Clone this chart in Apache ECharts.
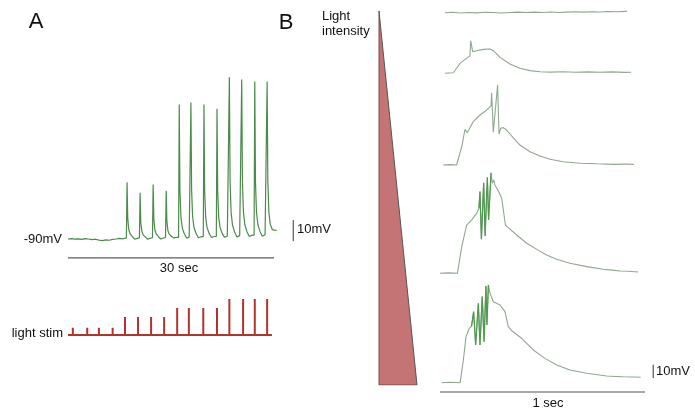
<!DOCTYPE html>
<html>
<head>
<meta charset="utf-8">
<script src="https://cdn.jsdelivr.net/npm/echarts@6/dist/echarts.min.js"></script>
<style>
html,body{margin:0;padding:0;background:#fff;}
#chart{width:695px;height:411px;}
</style>
</head>
<body>
<div id="chart"></div>
<script>
// ---------------- DATA ----------------
// Panel A: membrane potential [time s, mV]
const traceA = [
  [0,-90.0],[0.5,-89.8],[1.0,-90.1],[1.5,-89.9],[2.0,-90.2],[2.5,-89.8],[3.0,-90.0],[3.5,-90.3],
  [4.0,-90.1],[4.5,-90.5],[5.0,-90.8],[5.5,-90.4],[6.0,-90.6],[6.5,-90.2],[7.0,-90.0],[7.5,-89.7],
  [8.0,-89.9],[8.5,-89.5],
  [8.6,-63],[8.7,-80.2],[8.85,-85.5],[9.05,-87.6],[9.35,-88.8],[9.7,-90.1],[10.1,-89.7],
  [10.4,-89.5],[10.5,-68],[10.6,-82.0],[10.75,-86.3],[10.95,-88.0],[11.25,-89.0],[11.6,-90.1],[12.0,-89.6],
  [12.3,-89.4],[12.4,-64],[12.5,-80.5],[12.65,-85.6],[12.85,-87.6],[13.15,-88.8],[13.5,-90.0],[13.9,-89.5],
  [14.2,-89.3],[14.3,-67],[14.4,-81.5],[14.55,-86.0],[14.75,-87.7],[15.05,-88.7],[15.4,-89.5],[15.8,-89.2],
  [16.1,-89.2],[16.2,-26],[16.3,-67.1],[16.45,-79.7],[16.65,-84.8],[16.95,-87.6],[17.3,-89.6],[17.65,-89.0],
  [17.8,-89.0],[17.9,-25],[18.0,-66.6],[18.15,-79.4],[18.35,-84.5],[18.65,-87.4],[19.0,-89.4],[19.4,-88.9],
  [19.7,-88.9],[19.8,-26],[19.9,-66.9],[20.05,-79.5],[20.25,-84.5],[20.55,-87.3],[20.9,-89.3],[21.3,-88.8],
  [21.6,-88.8],[21.7,-28],[21.8,-67.5],[21.95,-79.7],[22.15,-84.5],[22.45,-87.3],[22.8,-89.2],[23.2,-88.6],
  [23.4,-88.5],[23.5,-13],[23.6,-62.1],[23.75,-77.2],[23.95,-83.2],[24.25,-86.6],[24.6,-89.0],[25.0,-88.4],
  [25.2,-88.3],[25.3,-14],[25.4,-62.3],[25.55,-77.2],[25.75,-83.1],[26.05,-86.4],[26.4,-88.8],[26.8,-88.2],
  [27.1,-88.2],[27.2,-15],[27.3,-62.6],[27.45,-77.2],[27.65,-83.1],[27.95,-86.4],[28.3,-88.7],[28.7,-88.0],
  [28.9,-88.0],[29.0,-15],[29.1,-62.5],[29.25,-77.0],[29.45,-82.9],[29.75,-85.5],[30.1,-85.8],[30.4,-85.9]
];
// Panel A: light stimuli (time s, relative intensity)
const stimTimes  = [0.7, 2.8, 4.5, 6.5, 8.3, 10.2, 12.1, 14.0, 15.9, 17.6, 19.7, 21.7, 23.5, 25.5, 27.2, 29.0];
const stimLevels = [1, 1, 1, 1, 2.5, 2.5, 2.5, 2.5, 3.75, 3.75, 3.75, 3.75, 5, 5, 5, 5];
const stimEnd = 29.7;
// scale bars A
const scaleA = {time: 32.8, from: -91, mV: 10, barLevel: -99, sec: 30};

// Panel B: responses [time ms, mV above rest], increasing light intensity
const traceB1 = [[24,0],[60,0.3],[100,-0.2],[140,0.2],[180,-0.1],[220,0.3],[260,0.1],[300,-0.2],[340,0.2],
  [380,0.4],[420,0.1],[460,0.4],[500,0.2],[540,0.5],[580,0.1],[620,0.4],[660,0.7],[700,0.4],[740,0.7],
  [780,0.5],[820,0.9],[860,0.7],[912,1.0]];
const traceB2 = [[24,0],[65,0.4],[81,3.8],[98,7.5],[122,10.5],[146,13.0],[150,24.5],[159,16.3],[179,17.0],
  [211,18.0],[244,18.3],[260,17.0],[293,12.0],[341,7.0],[390,3.8],[439,2.0],[488,1.2],[540,0.9],[600,1.2],
  [660,0.8],[720,1.1],[780,0.8],[840,1.1],[900,0.7],[932,0.8]];
const traceB3 = [[16,0],[50,0.3],[81,0],[106,13.8],[122,26.8],[133,24.3],[162,32.6],[195,37.6],[228,41.4],
  [249,44.4],[252,54.4],[260,24.6],[281,60.2],[288,23.3],[296,27.6],[309,28.1],[325,26.3],[350,21.8],
  [390,15.0],[439,10.0],[488,6.8],[537,4.3],[601,2.5],[683,1.3],[764,0.9],[850,0.5],[900,0.8],[946,0.5]];
const traceB4 = [[0,0],[40,0.3],[85,0],[106,20],[130,36.3],[154,40],[179,45.1],[190,48.9],[195,61.4],
  [202,25.6],[213,68.1],[220,28.0],[231,72.2],[237,40.1],[249,75.6],[255,67.7],[262,70.2],[268,66.4],
  [284,62.1],[301,56.4],[309,47.6],[319,36.3],[333,34.3],[374,28.8],[423,22.6],[472,18.0],[520,13.8],
  [569,10.5],[634,7.5],[716,5.0],[797,3.0],[840,2.4],[878,1.7],[920,1.5],[967,1.0]];
const traceB5 = [[8,0],[50,0.3],[98,0],[114,17.1],[127,34.6],[143,40.9],[154,42.6],[164,53.4],[174,28.3],
  [187,59.7],[195,28.3],[206,64.7],[215,30.8],[224,72.7],[229,43.4],[236,73.5],[244,67.2],[260,60.9],
  [293,58.4],[317,53.4],[333,42.1],[350,39.1],[398,33.4],[455,24.6],[512,18.3],[569,13.3],[634,9.5],
  [716,7.1],[813,5.0],[860,4.7],[894,4.5],[940,4.3],[979,4.1]];
const burstWindowB4 = [190, 249];
const burstWindowB5 = [154, 236];
// scale bars B
const scaleB = {time: 1040, from: 3.5, mV: 10, barLevel: -7, ms: 1000};
// light intensity ramp (relative intensity vs. position down the stack)
const intensityRamp = [[0, 1], [1, 0]];

// ---------------- LAYOUT ----------------
const FONT = '"Liberation Sans", Arial, Helvetica, sans-serif';
const AX = {left: 68, pxPerSec: 206 / 30, tMax: 35};
const AY = {restPx: 239, restMv: -90, pxPerMv: 2.1, min: -100, max: -10};
const BX = {left: 440, pxPerMs: 205 / 1000, tMax: 1100};
const BY_K = 1.33;
const bBases = [12.7, 73.3, 165, 273.3, 382.7];
const bRanges = [[-5, 5], [-5, 30], [-5, 65], [-5, 80], [-10, 80]];

const grids = [];
const xAxes = [];
const yAxes = [];
function addGrid(g, xa, ya) {
  grids.push(Object.assign({containLabel: false, show: false}, g));
  const i = grids.length - 1;
  xAxes.push(Object.assign({type: 'value', gridIndex: i, show: false, splitLine: {show: false}}, xa));
  yAxes.push(Object.assign({type: 'value', gridIndex: i, show: false, splitLine: {show: false}}, ya));
  return i;
}
const gA = addGrid(
  {left: AX.left, width: AX.tMax * AX.pxPerSec, top: AY.restPx - (AY.max - AY.restMv) * AY.pxPerMv,
   height: (AY.max - AY.min) * AY.pxPerMv},
  {min: 0, max: AX.tMax}, {min: AY.min, max: AY.max});
const stimPx = 7.2;
const gS = addGrid({left: AX.left, width: AX.tMax * AX.pxPerSec, top: 335 - 5 * stimPx, height: 5 * stimPx},
  {min: 0, max: AX.tMax}, {min: 0, max: 5});
const gT = addGrid({left: 379, top: 11, width: 38, height: 374}, {min: 0, max: 1}, {min: 0, max: 1});
const gB = bBases.map((b, i) => addGrid(
  {left: BX.left, width: BX.tMax * BX.pxPerMs, top: b - bRanges[i][1] * BY_K,
   height: (bRanges[i][1] - bRanges[i][0]) * BY_K},
  {min: 0, max: BX.tMax}, {min: bRanges[i][0], max: bRanges[i][1]}));

const stimLine = [[0, 0]];
stimTimes.forEach((t, i) => { stimLine.push([t, 0], [t, stimLevels[i]], [t, 0]); });
stimLine.push([stimEnd, 0]);

const greyGreen = '#8fa78f';
const burstGreen = '#4f9a4f';
const lineBase = {type: 'line', symbol: 'none', smooth: false, silent: true, animation: false};

const series = [
  Object.assign({}, lineBase, {xAxisIndex: gA, yAxisIndex: gA, data: traceA,
    lineStyle: {color: '#4b8a4b', width: 1.2}}),
  Object.assign({}, lineBase, {xAxisIndex: gA, yAxisIndex: gA,
    data: [[scaleA.time, scaleA.from], [scaleA.time, scaleA.from + scaleA.mV]],
    lineStyle: {color: '#333', width: 1}}),
  Object.assign({}, lineBase, {xAxisIndex: gA, yAxisIndex: gA,
    data: [[0, scaleA.barLevel], [scaleA.sec, scaleA.barLevel]],
    lineStyle: {color: '#333', width: 1}}),
  Object.assign({}, lineBase, {xAxisIndex: gS, yAxisIndex: gS, data: stimLine,
    lineStyle: {color: '#b3322c', width: 2, join: 'miter'}}),
  Object.assign({}, lineBase, {xAxisIndex: gT, yAxisIndex: gT, data: intensityRamp,
    lineStyle: {color: '#555', width: 1}, areaStyle: {color: '#c47474', origin: 'start', opacity: 1}}),
  Object.assign({}, lineBase, {xAxisIndex: gT, yAxisIndex: gT,
    data: [[0, intensityRamp[0][1]], [0, 0], [intensityRamp[1][0], 0]],
    lineStyle: {color: '#7a4a4a', width: 1}})
];
const traceBs = [traceB1, traceB2, traceB3, traceB4, traceB5];
traceBs.forEach((d, i) => {
  series.push(Object.assign({}, lineBase, {xAxisIndex: gB[i], yAxisIndex: gB[i], data: d,
    lineStyle: {color: greyGreen, width: 1.1}}));
});
// burst overlays (green) taken from the same traces
[[3, burstWindowB4], [4, burstWindowB5]].forEach(([i, w]) => {
  series.push(Object.assign({}, lineBase, {xAxisIndex: gB[i], yAxisIndex: gB[i],
    data: traceBs[i].filter(p => p[0] >= w[0] && p[0] <= w[1]),
    lineStyle: {color: burstGreen, width: 1.2}}));
});
series.push(Object.assign({}, lineBase, {xAxisIndex: gB[4], yAxisIndex: gB[4],
  data: [[scaleB.time, scaleB.from], [scaleB.time, scaleB.from + scaleB.mV]],
  lineStyle: {color: '#333', width: 1}}));
series.push(Object.assign({}, lineBase, {xAxisIndex: gB[4], yAxisIndex: gB[4],
  data: [[0, scaleB.barLevel], [scaleB.ms, scaleB.barLevel]],
  lineStyle: {color: '#555', width: 1.2}}));

function txt(x, y, s, size, align, weight) {
  return {type: 'text', x: x, y: y, silent: true,
    style: {text: s, font: (weight || 'normal') + ' ' + size + 'px ' + FONT, fill: '#111',
      textAlign: align || 'left', textVerticalAlign: 'middle'}};
}
const graphic = [
  txt(36, 22, 'A', 22, 'center'),
  txt(286, 23, 'B', 22, 'center'),
  txt(322, 16, 'Light', 13, 'left'),
  txt(322, 31, 'intensity', 13, 'left'),
  txt(62, 239, '-90mV', 13, 'right'),
  txt(297, 229, '10mV', 13, 'left'),
  txt(179, 268, '30 sec', 13, 'center'),
  txt(63, 333, 'light stim', 13, 'right'),
  txt(656, 371, '10mV', 13, 'left'),
  txt(548, 403, '1 sec', 13, 'center')
];

const chart = echarts.init(document.getElementById('chart'), null, {renderer: 'canvas'});
chart.setOption({
  animation: false,
  backgroundColor: '#ffffff',
  grid: grids, xAxis: xAxes, yAxis: yAxes,
  series: series,
  graphic: graphic
});
</script>
</body>
</html>
